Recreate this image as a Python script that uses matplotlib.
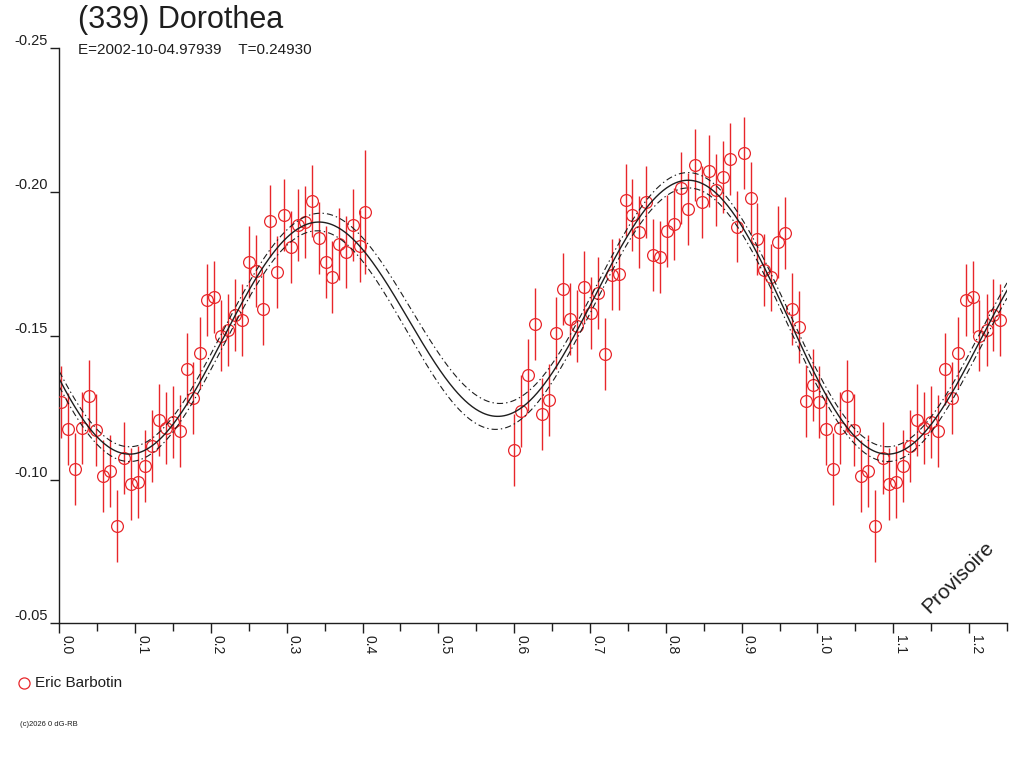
import numpy as np
import matplotlib
matplotlib.use('Agg')
import matplotlib.pyplot as plt
from matplotlib.lines import Line2D

plt.rcParams['font.family'] = ['Liberation Sans', 'DejaVu Sans']
plt.rcParams['lines.scale_dashes'] = False

title = "(339) Dorothea"
subtitle = "E=2002-10-04.97939    T=0.24930"
observer = "Eric Barbotin"

# phase-folded data (phase 0..1), reduced magnitude, error
phase = [0.0022, 0.0119, 0.0211, 0.0303, 0.0396, 0.0488, 0.0580, 0.0673, 0.0765, 0.0858,
         0.0950, 0.1042, 0.1131, 0.1223, 0.1315, 0.1408, 0.1496, 0.1588, 0.1681, 0.1768,
         0.1860, 0.1953, 0.2045, 0.2137, 0.2230, 0.2318, 0.2410, 0.2503, 0.2595, 0.2687,
         0.2780, 0.2872, 0.2964, 0.3057, 0.3145, 0.3237, 0.3330, 0.3422, 0.3515, 0.3602,
         0.3694, 0.3786, 0.3879, 0.3971, 0.4033,
         0.6003, 0.6095, 0.6187, 0.6280, 0.6372, 0.6464, 0.6553, 0.6645, 0.6737, 0.6830,
         0.6922, 0.7011, 0.7103, 0.7195, 0.7288, 0.7380, 0.7472, 0.7559, 0.7652, 0.7744,
         0.7836, 0.7929, 0.8021, 0.8113, 0.8202, 0.8294, 0.8387, 0.8479, 0.8567, 0.8660,
         0.8752, 0.8844, 0.8937, 0.9029, 0.9121, 0.9208, 0.9301, 0.9393, 0.9485, 0.9578,
         0.9670, 0.9763, 0.9851, 0.9943]

mag = [-0.1271, -0.1175, -0.1038, -0.1178, -0.1290, -0.1172, -0.1013, -0.1031, -0.0838, -0.1074,
       -0.0985, -0.0990, -0.1048, -0.1118, -0.1207, -0.1178, -0.1199, -0.1170, -0.1383, -0.1283,
       -0.1440, -0.1623, -0.1636, -0.1501, -0.1520, -0.1572, -0.1556, -0.1756, -0.1726, -0.1593,
       -0.1900, -0.1723, -0.1919, -0.1810, -0.1884, -0.1896, -0.1970, -0.1840, -0.1758, -0.1706,
       -0.1820, -0.1791, -0.1886, -0.1812, -0.1931,
       -0.1104, -0.1237, -0.1365, -0.1542, -0.1227, -0.1277, -0.1511, -0.1663, -0.1558, -0.1534,
       -0.1669, -0.1578, -0.1650, -0.1437, -0.1713, -0.1716, -0.1972, -0.1920, -0.1862, -0.1964,
       -0.1781, -0.1773, -0.1866, -0.1890, -0.2014, -0.1941, -0.2094, -0.1966, -0.2074, -0.2008,
       -0.2053, -0.2115, -0.1880, -0.2137, -0.1978, -0.1838, -0.1729, -0.1703, -0.1825, -0.1859,
       -0.1592, -0.1530, -0.1274, -0.1328]

err = [0.0125] * 44 + [0.0216] + [0.0125] * 37 + [0.0118] + [0.0125] * 6

fit_order = 2
x_max = 1.25

red = '#e8262a'
ink = '#1e1e1e'


def design(ph, order):
    cols = [np.ones_like(ph)]
    for k in range(1, order + 1):
        cols.append(np.cos(2 * np.pi * k * ph))
        cols.append(np.sin(2 * np.pi * k * ph))
    return np.column_stack(cols)


def fourier_fit(ph, y, e, order):
    w = 1.0 / e
    A = design(ph, order) * w[:, None]
    b = y * w
    coef = np.linalg.lstsq(A, b, rcond=None)[0]
    chi2 = np.sum((A @ coef - b) ** 2)
    dof = len(y) - A.shape[1]
    cov = np.linalg.inv(A.T @ A) * chi2 / dof
    return coef, cov


ph = np.array(phase)
y = np.array(mag)
e = np.array(err)

coef, cov = fourier_fit(ph, y, e, fit_order)
grid = np.linspace(0, x_max, 800)
G = design(grid, fit_order)
fit = G @ coef
sig = np.sqrt(np.einsum('ij,jk,ik->i', G, cov, G))

# repeat the start of the cycle after phase 1
rep = ph + 1 <= x_max
ph_all = np.concatenate([ph, ph[rep] + 1])
y_all = np.concatenate([y, y[rep]])
e_all = np.concatenate([e, e[rep]])

fig = plt.figure(figsize=(10.24, 7.68), dpi=100)
ax = fig.add_axes([59.3 / 1024, 1 - 623.3 / 768, (1007 - 59.3) / 1024, (623.3 - 48.3) / 768])

ax.errorbar(ph_all, y_all, yerr=e_all, fmt='none', ecolor=red, elinewidth=1.0, capsize=0, zorder=2)
ax.plot(ph_all, y_all, 'o', mfc='none', mec=red, ms=8.5, mew=0.9, zorder=3)

ax.plot(grid, fit, color=ink, lw=1.0, zorder=4)
dd = (0, (4.5, 2.2, 1.0, 2.2))
ax.plot(grid, fit - sig, color=ink, lw=0.8, linestyle=dd, zorder=4)
ax.plot(grid, fit + sig, color=ink, lw=0.8, linestyle=dd, zorder=4)

ax.set_xlim(0, x_max)
ax.set_ylim(-0.05, -0.25)
ax.set_xticks(np.arange(0, 1.21, 0.1))
ax.set_xticks(np.arange(0.05, 1.26, 0.1), minor=True)
ax.set_yticks([-0.25, -0.20, -0.15, -0.10, -0.05])
ax.set_yticklabels(['-0.25', '-0.20', '-0.15', '-0.10', '-0.05'])
ax.set_xticklabels(['%.1f' % v for v in np.arange(0, 1.21, 0.1)])

for s in ['top', 'right']:
    ax.spines[s].set_visible(False)
for s in ['left', 'bottom']:
    ax.spines[s].set_color(ink)
    ax.spines[s].set_linewidth(1.0)

ax.tick_params(axis='x', which='major', direction='out', length=7.5, width=1.0, color=ink,
               labelsize=10, labelcolor=ink, pad=1)
ax.tick_params(axis='x', which='minor', direction='out', length=6, width=1.0, color=ink)
ax.tick_params(axis='y', which='major', direction='out', length=6.5, width=1.0, color=ink,
               labelsize=10.5, labelcolor=ink, pad=1.5)
for lab in ax.get_xticklabels():
    lab.set_rotation(270)
    lab.set_ha('left')
    lab.set_va('top')
for lab in ax.get_yticklabels():
    lab.set_va('bottom')

fig.text(78 / 1024, 1 - 28 / 768, title, fontsize=22, color=ink, ha='left', va='baseline')
fig.text(78 / 1024, 1 - 54 / 768, subtitle, fontsize=11, color=ink, ha='left', va='baseline')

fig.text(958 / 1024, 1 - 577 / 768, "Provisoire", fontsize=15, color=ink, rotation=45,
         ha='center', va='center')

fig.add_artist(Line2D([24 / 1024], [1 - 683 / 768], marker='o', mfc='none', mec=red, ms=8,
                      mew=0.9, transform=fig.transFigure))
fig.text(35 / 1024, 1 - 683 / 768, observer, fontsize=11, color=ink, ha='left', va='center')
fig.text(20 / 1024, 1 - 725 / 768, "(c)2026 0 dG-RB", fontsize=5.5, color=ink, ha='left', va='center')

fig.savefig('out.png', dpi=100, facecolor='white')
